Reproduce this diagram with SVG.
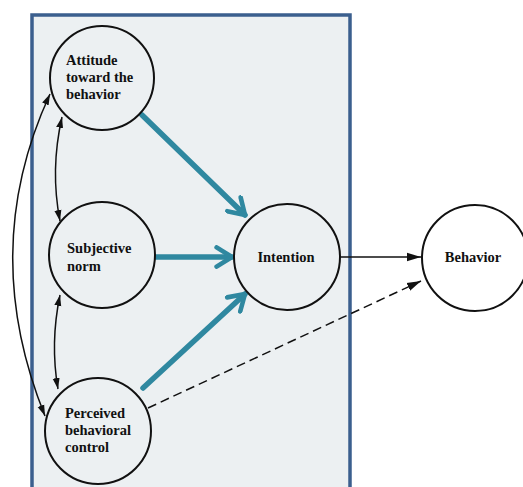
<svg xmlns="http://www.w3.org/2000/svg" width="523" height="487" viewBox="0 0 523 487">
<defs>
<style>
.node circle{fill:#fff;stroke:#111;stroke-width:2}
.panel .node circle{fill:#ecf0f2}
text{font-family:"Liberation Serif","DejaVu Serif",serif;font-size:14.5px;font-weight:bold;fill:#111}
.teal{stroke:#2f88a0;stroke-width:5.5;fill:none;stroke-linecap:round}
.thin{stroke:#111;stroke-width:1.5;fill:none}
</style>
<marker id="chev" viewBox="0 0 12 12" refX="10" refY="6" markerWidth="4.2" markerHeight="4.2" orient="auto" markerUnits="strokeWidth">
<path d="M2,1 L10,6 L2,11" fill="none" stroke="#2f88a0" stroke-width="2.4" stroke-linecap="round" stroke-linejoin="round"/>
</marker>
<marker id="tri" viewBox="0 0 10 10" refX="10" refY="5" markerWidth="11" markerHeight="11" orient="auto-start-reverse" markerUnits="userSpaceOnUse">
<path d="M0,1.8 L10,5 L0,8.2 Z" fill="#111"/>
</marker>
<marker id="triL" viewBox="0 0 10 10" refX="10" refY="5" markerWidth="14" markerHeight="14" orient="auto" markerUnits="userSpaceOnUse">
<path d="M0,2 L10,5 L0,8 Z" fill="#111"/>
</marker>
</defs>
<rect x="0" y="0" width="523" height="487" fill="#fff"/>
<rect x="32" y="15" width="318" height="480" fill="#ecf0f2" stroke="#3b5f8e" stroke-width="3.5"/>
<g id="connectors">
<path class="teal" d="M142,115 L245,215" marker-end="url(#chev)"/>
<path class="teal" d="M155,257 L232,257" marker-end="url(#chev)"/>
<path class="teal" d="M143,388 L245,294" marker-end="url(#chev)"/>
<path class="thin" d="M340,257 L421,257" marker-end="url(#triL)"/>
<path class="thin" d="M148,408 L421,281" stroke-dasharray="9,5" marker-end="url(#triL)"/>
<path class="thin" d="M62,117 Q50,170 60,221" marker-start="url(#tri)" marker-end="url(#tri)"/>
<path class="thin" d="M60,295 Q50,343 58,389" marker-start="url(#tri)" marker-end="url(#tri)"/>
<path class="thin" d="M50,94 Q-22,250 45,416" marker-start="url(#tri)" marker-end="url(#tri)"/>
</g>
<g class="panel">
<g id="attitude" class="node"><circle cx="102" cy="78" r="52"/>
<text x="66" y="65">Attitude</text><text x="66" y="82">toward the</text><text x="66" y="99">behavior</text></g>
<g id="subjective" class="node"><circle cx="102" cy="255" r="53"/>
<text x="67" y="253">Subjective</text><text x="67" y="271">norm</text></g>
<g id="perceived" class="node"><circle cx="98" cy="431" r="53"/>
<text x="65" y="418">Perceived</text><text x="65" y="435">behavioral</text><text x="65" y="452">control</text></g>
<g id="intention" class="node"><circle cx="287" cy="257" r="53"/>
<text x="286" y="262" text-anchor="middle">Intention</text></g>
</g>
<g id="behavior" class="node"><circle cx="475" cy="258" r="53"/>
<text x="473" y="262" text-anchor="middle">Behavior</text></g>
</svg>
